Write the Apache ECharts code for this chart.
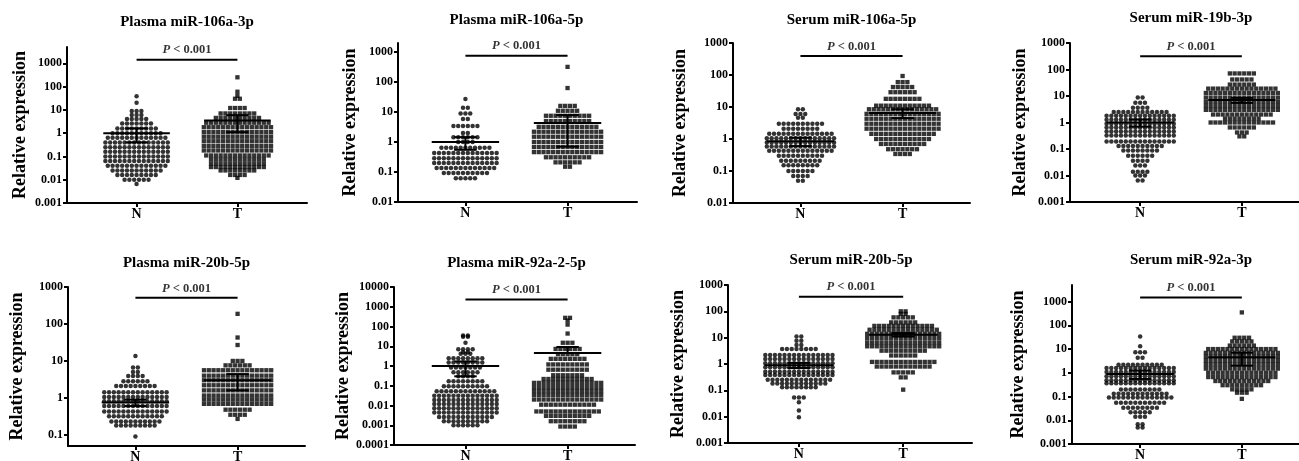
<!DOCTYPE html>
<html><head><meta charset="utf-8">
<script src="https://cdn.jsdelivr.net/npm/echarts@6/dist/echarts.min.js"></script>
<style>html,body{margin:0;padding:0;background:#fff}#c{width:1299px;height:461px}</style>
</head><body><div id="c"></div>
<script>
// ---------- DATA ----------
const categories = ['N', 'T'];
const titles = ['Plasma miR-106a-3p', 'Plasma miR-106a-5p', 'Serum miR-106a-5p', 'Serum miR-19b-3p',
                'Plasma miR-20b-5p', 'Plasma miR-92a-2-5p', 'Serum miR-20b-5p', 'Serum miR-92a-3p'];
const yName = 'Relative expression';
const pLabel = 'P < 0.001';

// tick labels (y axes)
const yTicks1 = [0.001, 0.01, 0.1, 1, 10, 100, 1000];
const yTicks2 = [0.01, 0.1, 1, 10, 100, 1000];
const yTicks3 = [0.01, 0.1, 1, 10, 100, 1000];
const yTicks4 = [0.001, 0.01, 0.1, 1, 10, 100, 1000];
const yTicks5 = [0.1, 1, 10, 100, 1000];
const yTicks6 = [0.0001, 0.001, 0.01, 0.1, 1, 10, 100, 1000, 10000];
const yTicks7 = [0.001, 0.01, 0.1, 1, 10, 100, 1000];
const yTicks8 = [0.001, 0.01, 0.1, 1, 10, 100, 1000];

// values: [relative expression, number of samples at that level]
const p1N = [[38,1],[20,1],[9,3],[6,3],[4,5],[2.6,7],[1.6,9],[1.0,11],[0.63,13],[0.4,14],[0.25,14],[0.16,14],[0.1,14],[0.063,14],[0.04,13],[0.025,11],[0.016,9],[0.01,6],[0.0065,1]];
const p1T = [[250,1],[60,1],[40,1],[30,2],[12,4],[7,8],[4.5,10],[2.8,14],[1.8,15],[1.1,15],[0.7,15],[0.45,15],[0.28,15],[0.18,15],[0.11,14],[0.075,12],[0.05,12],[0.035,12],[0.025,8],[0.016,4],[0.012,1]];
const p2N = [[27,1],[14,2],[9,3],[5.8,2],[3.4,6],[2,2],[1.45,6],[1,4],[0.64,11],[0.43,14],[0.29,14],[0.2,14],[0.135,13],[0.092,10],[0.062,5]];
const p2T = [[320,1],[63,1],[16,4],[11,5],[7.5,10],[5,10],[3.2,13],[2.2,15],[1.5,15],[1.0,15],[0.68,15],[0.46,15],[0.31,10],[0.21,6],[0.15,2]];
const p3N = [[8.5,2],[6,3],[4.6,2],[3,10],[2.1,8],[1.45,14],[1.05,15],[0.78,15],[0.58,15],[0.43,14],[0.3,10],[0.21,9],[0.15,8],[0.1,6],[0.07,4],[0.05,2]];
const p3T = [[93,1],[60,3],[42,5],[29,6],[18,8],[11,12],[8.5,15],[6.1,16],[4.3,16],[3,16],[2.1,16],[1.45,14],[1.0,12],[0.7,10],[0.48,7],[0.34,4]];
const p4N = [[8.7,2],[5.6,3],[3.6,4],[2.5,12],[1.8,15],[1.26,15],[0.9,15],[0.65,15],[0.46,15],[0.32,15],[0.19,15],[0.13,10],[0.087,8],[0.056,6],[0.036,4],[0.024,3],[0.014,4],[0.01,3],[0.0065,2]];
const p4T = [[71,6],[42,5],[27,6],[19,15],[13,16],[8.7,16],[6,16],[4.2,16],[3,16],[2,13],[1.4,8],[1,14],[0.65,6],[0.42,3],[0.3,2]];
const p5N = [[13.6,1],[6.6,2],[5,2],[3.9,4],[2.8,6],[2.1,9],[1.43,14],[1.06,14],[0.81,14],[0.6,14],[0.43,14],[0.32,12],[0.23,11],[0.18,9],[0.09,1]];
const p5T = [[188,1],[43,1],[27,1],[10,3],[7.6,6],[5.6,15],[4,15],[3,15],[2.2,15],[1.6,15],[1.16,15],[0.9,15],[0.69,15],[0.48,6],[0.35,4],[0.27,1]];
const p6N = [[35,2],[30,2],[15,1],[7,4],[5,2],[4.2,3],[2.5,8],[1.5,8],[0.85,7],[0.48,6],[0.3,4],[0.17,8],[0.093,10],[0.052,13],[0.031,14],[0.019,14],[0.012,14],[0.0073,14],[0.0044,14],[0.0026,12],[0.0016,10],[0.001,6]];
const p6T = [[275,2],[200,1],[125,1],[44,1],[15,3],[7.3,6],[4,5],[2.3,8],[1.2,9],[0.65,9],[0.34,7],[0.22,11],[0.14,15],[0.085,15],[0.054,15],[0.034,15],[0.02,15],[0.011,12],[0.005,14],[0.003,10],[0.0016,8],[0.00086,4]];
const p7N = [[11,2],[7.7,2],[5.3,2],[3.7,8],[2.2,15],[1.55,15],[1.06,15],[0.75,15],[0.51,15],[0.38,15],[0.25,14],[0.18,12],[0.13,8],[0.054,3],[0.035,1],[0.017,1],[0.0095,1]];
const p7T = [[100,2],[80,2],[59,5],[38,6],[28,13],[20,15],[14,16],[9.7,16],[6.6,16],[4.7,16],[3.2,10],[2.1,6],[1.2,14],[0.8,12],[0.48,5],[0.31,2],[0.106,1]];
const p8N = [[34,1],[13,1],[7.4,3],[4.3,2],[2.2,10],[1.6,15],[1.07,15],[0.72,15],[0.49,15],[0.36,15],[0.2,9],[0.13,12],[0.09,14],[0.055,11],[0.034,8],[0.022,5],[0.014,3],[0.0068,2],[0.005,2]];
const p8T = [[350,1],[30,4],[21,5],[14,6],[10,15],[6.9,16],[4.7,16],[3.2,16],[2.2,16],[1.5,16],[1,15],[0.66,15],[0.45,12],[0.3,9],[0.2,5],[0.145,3],[0.08,1]];

// mean and SEM for [N, T]
const p1Mean = [1.0, 3.5],  p1Sem = [0.6, 2.4];
const p2Mean = [1.0, 4.3],  p2Sem = [0.45, 3.6];
const p3Mean = [0.85, 6.5], p3Sem = [0.25, 2.0];
const p4Mean = [1.0, 7.0],  p4Sem = [0.3, 1.5];
const p5Mean = [0.75, 3.0], p5Sem = [0.15, 1.4];
const p6Mean = [1.0, 4.5],  p6Sem = [0.7, 4.7];
const p7Mean = [0.9, 13],   p7Sem = [0.2, 2.0];
const p8Mean = [0.9, 4.5],  p8Sem = [0.35, 2.5];

// significance bracket level
const bracketY = [1430, 752, 395, 316, 510, 2360, 360, 1490];

// ---------- LAYOUT ----------
const FONT = "'Liberation Serif','Times New Roman',serif";
const layouts = [
  {left:67,  top:47,  width:240, height:156, xMin:-0.69, xMax:1.69, yMin:0.001,  yMax:5000,  nameGap:38, titleY:22},
  {left:398, top:43,  width:239, height:159, xMin:-0.66, xMax:1.68, yMin:0.01,   yMax:2000,  nameGap:39, titleY:20},
  {left:733, top:43,  width:237, height:160, xMin:-0.66, xMax:1.66, yMin:0.01,   yMax:1000,  nameGap:44, titleY:20},
  {left:1070,top:43,  width:242, height:159, xMin:-0.69, xMax:1.69, yMin:0.001,  yMax:1000,  nameGap:41, titleY:18},
  {left:68,  top:287, width:237, height:159, xMin:-0.66, xMax:1.66, yMin:0.05,   yMax:1000,  nameGap:42, titleY:263},
  {left:394, top:287, width:241, height:158, xMin:-0.70, xMax:1.66, yMin:0.0001, yMax:10000, nameGap:38, titleY:263},
  {left:728, top:285, width:244, height:158, xMin:-0.68, xMax:1.66, yMin:0.001,  yMax:1000,  nameGap:41, titleY:260},
  {left:1072,top:285, width:240, height:159, xMin:-0.67, xMax:1.69, yMin:0.001,  yMax:5000,  nameGap:45, titleY:260}
];

const panels = [
  {n:p1N, t:p1T, mean:p1Mean, sem:p1Sem, ticks:yTicks1},
  {n:p2N, t:p2T, mean:p2Mean, sem:p2Sem, ticks:yTicks2},
  {n:p3N, t:p3T, mean:p3Mean, sem:p3Sem, ticks:yTicks3},
  {n:p4N, t:p4T, mean:p4Mean, sem:p4Sem, ticks:yTicks4},
  {n:p5N, t:p5T, mean:p5Mean, sem:p5Sem, ticks:yTicks5},
  {n:p6N, t:p6T, mean:p6Mean, sem:p6Sem, ticks:yTicks6},
  {n:p7N, t:p7T, mean:p7Mean, sem:p7Sem, ticks:yTicks7},
  {n:p8N, t:p8T, mean:p8Mean, sem:p8Sem, ticks:yTicks8}
];

// beeswarm layout: spread each level's points horizontally around the group position
function swarm(rows, center, dx) {
  const pts = [];
  rows.forEach(function (r) {
    const v = r[0], n = r[1];
    for (let i = 0; i < n; i++) pts.push([center + (i - (n - 1) / 2) * dx, v]);
  });
  return pts;
}

const grid = [], xAxis = [], yAxis = [], series = [], graphic = [];
panels.forEach(function (p, i) {
  const L = layouts[i];
  const unitPx = L.width / (L.xMax - L.xMin);
  const dx = 4.8 / unitPx;
  grid.push({left:L.left, top:L.top, width:L.width, height:L.height, containLabel:false, outerBoundsMode:'none'});
  xAxis.push({
    type:'value', gridIndex:i, min:L.xMin, max:L.xMax,
    axisLine:{show:true, onZero:false, lineStyle:{color:'#000', width:2}},
    splitLine:{show:false},
    axisTick:{show:true, customValues:[0,1], length:4, lineStyle:{color:'#000', width:2}},
    axisLabel:{customValues:[0,1], formatter:function (v) { return categories[Math.round(v)]; },
      fontFamily:FONT, fontWeight:'bold', fontSize:14, color:'#000', margin:4}
  });
  const ticks = p.ticks;
  yAxis.push({
    type:'log', logBase:10, gridIndex:i, min:L.yMin, max:L.yMax, splitNumber:10,
    axisLine:{show:true, onZero:false, lineStyle:{color:'#000', width:2}},
    splitLine:{show:false},
    axisTick:{show:true, customValues:ticks, length:4, lineStyle:{color:'#000', width:2}},
    axisLabel:{customValues:ticks, fontFamily:FONT, fontWeight:'bold', fontSize:12, color:'#000', margin:5,
      formatter:function (v) {
        const t = ticks.find(function (x) { return Math.abs(Math.log10(x) - Math.log10(v)) < 1e-6; });
        return t !== undefined ? String(t) : '';
      }},
    name:yName, nameLocation:'middle', nameGap:L.nameGap,
    nameTextStyle:{fontFamily:FONT, fontWeight:'bold', fontSize:18, color:'#000'}
  });
  series.push({type:'scatter', xAxisIndex:i, yAxisIndex:i, symbol:'circle', symbolSize:4.5,
    itemStyle:{color:'#000'}, data:swarm(p.n, 0, dx), silent:true});
  series.push({type:'scatter', xAxisIndex:i, yAxisIndex:i, symbol:'rect', symbolSize:4.3,
    itemStyle:{color:'#000'}, data:swarm(p.t, 1, dx), silent:true});
  series.push({type:'custom', xAxisIndex:i, yAxisIndex:i, z:5, silent:true,
    data:categories.map(function (c, k) { return [k, p.mean[k], p.sem[k]]; }),
    renderItem:function (params, api) {
      const x = api.value(0), m = api.value(1), s = api.value(2);
      const ch = [];
      function seg(x1, y1, x2, y2) {
        const a = api.coord([x1, y1]), b = api.coord([x2, y2]);
        ch.push({type:'line', shape:{x1:a[0], y1:a[1], x2:b[0], y2:b[1]}, style:{stroke:'#000', lineWidth:2}});
      }
      const hi = m + s, lo = m - s;
      seg(x - 0.33, m, x + 0.33, m);
      seg(x, lo > 0 ? lo : m, x, hi);
      seg(x - 0.11, hi, x + 0.11, hi);
      if (lo > 0) seg(x - 0.11, lo, x + 0.11, lo);
      return {type:'group', children:ch};
    }});
  series.push({type:'line', xAxisIndex:i, yAxisIndex:i, symbol:'none', z:5, silent:true,
    lineStyle:{color:'#000', width:2}, data:[[0, bracketY[i]], [1, bracketY[i]]]});
  series.push({type:'scatter', xAxisIndex:i, yAxisIndex:i, symbolSize:0, z:6, silent:true,
    data:[[0.5, bracketY[i]]],
    label:{show:true, position:'top', distance:3, color:'#000', fontFamily:FONT, fontSize:12.5,
      formatter:'{i|' + pLabel.slice(0, 1) + '}{b|' + pLabel.slice(1) + '}',
      rich:{i:{fontStyle:'italic', fontWeight:'bold', fontFamily:FONT, fontSize:12.5, color:'#000'},
            b:{fontWeight:'bold', fontFamily:FONT, fontSize:12.5, color:'#000'}}}});
  const cx = L.left + (0.5 - L.xMin) * unitPx;
  graphic.push({type:'text', x:cx, y:L.titleY, silent:true,
    style:{text:titles[i], align:'center', verticalAlign:'middle', fill:'#000',
      font:'bold 15px ' + FONT}});
});

const chart = echarts.init(document.getElementById('c'), null, {renderer:'canvas'});
chart.setOption({animation:false, backgroundColor:'#fff', grid:grid, xAxis:xAxis, yAxis:yAxis, series:series, graphic:graphic});
</script>
</body></html>
